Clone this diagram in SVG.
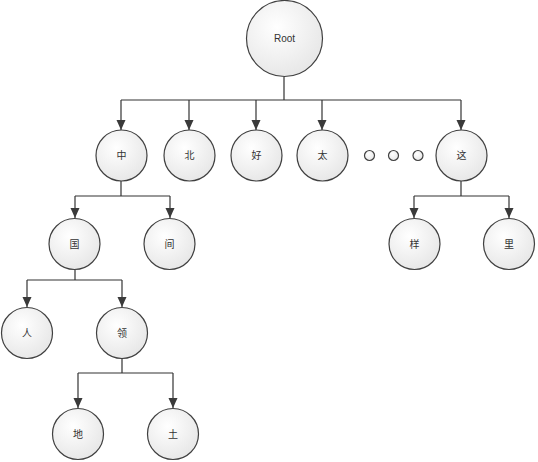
<svg xmlns="http://www.w3.org/2000/svg" width="538" height="462" viewBox="0 0 538 462">
<defs>
<radialGradient id="g" cx="0.4" cy="0.35" r="0.7">
<stop offset="0" stop-color="#ffffff"/>
<stop offset="1" stop-color="#e6e6e6"/>
</radialGradient>
<marker id="ah" viewBox="0 0 10 10" refX="10" refY="5" markerWidth="10" markerHeight="10" markerUnits="userSpaceOnUse" orient="auto">
<path d="M0,0.5 L10,5 L0,9.5 z" fill="#3a3a3a"/>
</marker>
</defs>
<style>
.n{fill:url(#g);stroke:#404040;stroke-width:1.2}
.t{font-family:"Liberation Sans","Noto Sans CJK SC",sans-serif;font-size:10px;fill:#333;text-anchor:middle;dominant-baseline:central}
.c{fill:none;stroke:#333;stroke-width:1.2}
.a{marker-end:url(#ah)}
</style>
<rect width="538" height="462" fill="#fff"/>
<g id="connectors">
<path class="c" d="M284,77 V100 M121,100 H461"/>
<path class="c a" d="M121,100 V130"/>
<path class="c a" d="M189,100 V130"/>
<path class="c a" d="M256,100 V130"/>
<path class="c a" d="M322,100 V130"/>
<path class="c a" d="M461,100 V130"/>
<path class="c" d="M121,181 V196 M75,196 H170"/>
<path class="c a" d="M75,196 V218"/>
<path class="c a" d="M170,196 V218"/>
<path class="c" d="M75,270 V280 M27,280 H122"/>
<path class="c a" d="M27,280 V307"/>
<path class="c a" d="M122,280 V307"/>
<path class="c" d="M122,359 V373 M78,373 H173"/>
<path class="c a" d="M78,373 V408"/>
<path class="c a" d="M173,373 V408"/>
<path class="c" d="M461,181 V196 M414,196 H509"/>
<path class="c a" d="M414,196 V218"/>
<path class="c a" d="M509,196 V218"/>
</g>
<g id="root"><circle class="n" cx="284.5" cy="38.5" r="38"/><text class="t" x="284.5" y="38.5">Root</text></g>
<g id="zhong"><circle class="n" cx="121.5" cy="155.5" r="25.5"/><text class="t" x="121.5" y="155.5">中</text></g>
<g id="bei"><circle class="n" cx="189.5" cy="155.5" r="25.5"/><text class="t" x="189.5" y="155.5">北</text></g>
<g id="hao"><circle class="n" cx="256.5" cy="155.5" r="25.5"/><text class="t" x="256.5" y="155.5">好</text></g>
<g id="tai"><circle class="n" cx="322.5" cy="155.5" r="25.5"/><text class="t" x="322.5" y="155.5">太</text></g>
<g id="dots">
<circle class="n" cx="369.5" cy="155.5" r="5"/>
<circle class="n" cx="393.5" cy="155.5" r="5"/>
<circle class="n" cx="418" cy="155.5" r="5"/>
</g>
<g id="zhe"><circle class="n" cx="461.5" cy="155.5" r="25.5"/><text class="t" x="461.5" y="155.5">这</text></g>
<g id="guo"><circle class="n" cx="74.5" cy="244" r="25.5"/><text class="t" x="74.5" y="244">国</text></g>
<g id="jian"><circle class="n" cx="169.5" cy="244" r="25.5"/><text class="t" x="169.5" y="244">间</text></g>
<g id="ren"><circle class="n" cx="27" cy="333" r="25.5"/><text class="t" x="27" y="333">人</text></g>
<g id="ling"><circle class="n" cx="122" cy="333" r="25.5"/><text class="t" x="122" y="333">领</text></g>
<g id="di"><circle class="n" cx="78" cy="434" r="25.5"/><text class="t" x="78" y="434">地</text></g>
<g id="tu"><circle class="n" cx="173" cy="434" r="25.5"/><text class="t" x="173" y="434">土</text></g>
<g id="yang"><circle class="n" cx="414.5" cy="244" r="25.5"/><text class="t" x="414.5" y="244">样</text></g>
<g id="li"><circle class="n" cx="509" cy="244" r="25.5"/><text class="t" x="509" y="244">里</text></g>
</svg>
